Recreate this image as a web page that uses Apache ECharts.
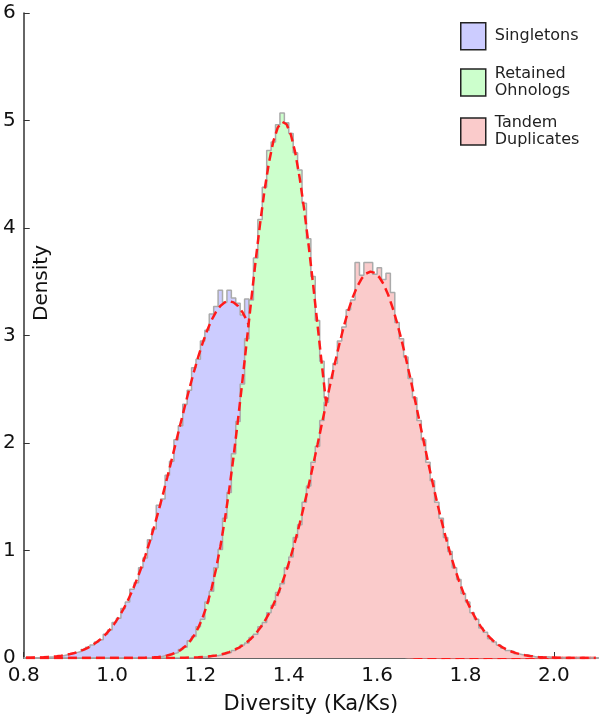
<!DOCTYPE html>
<html>
<head>
<meta charset="utf-8">
<script src="https://cdn.jsdelivr.net/npm/echarts@6/dist/echarts.min.js"></script>
<style>
html,body{margin:0;padding:0;background:#fff;}
#chart{width:600px;height:722px;}
</style>
</head>
<body>
<div id="chart"></div>
<script>
// Histogram bins: width 0.01, left edges from 0.80 to 2.09 (130 bins)
const binStart = 0.80;
const binWidth = 0.01;

const seriesNames = ['Singletons', 'Retained Ohnologs', 'Tandem Duplicates'];
const xTicks = [0.8, 1.0, 1.2, 1.4, 1.6, 1.8, 2.0];
const yTicks = [0, 1, 2, 3, 4, 5, 6];

// Histogram densities (one value per bin)
const singletonsHist = [
  0,0,0,0,0,0.01,0.01,0.02,0.02,0.03,
  0.04,0.05,0.06,0.08,0.10,0.12,0.15,0.17,0.22,0.26,
  0.33,0.37,0.46,0.52,0.64,0.70,0.84,0.93,1.10,1.20,
  1.42,1.48,1.70,1.83,2.03,2.16,2.36,2.49,2.70,2.78,
  2.95,3.05,3.20,3.27,3.42,3.31,3.42,3.35,3.30,3.19,
  3.34,3.25,2.95,2.80,2.66,2.51,2.34,2.18,2.01,1.85,
  1.68,1.52,1.36,1.22,1.08,0.95,0.83,0.72,0.62,0.53,
  0.45,0.38,0.31,0.26,0.21,0.17,0.13,0.10,0.08,0.06,
  0.05,0.03,0.02,0.02,0.01,0.01,0,0,0,0,
  0,0,0,0,0,0,0,0,0,0,
  0,0,0,0,0,0,0,0,0,0,
  0,0,0,0,0,0,0,0,0,0,
  0,0,0,0,0,0,0,0,0,0
];
const ohnologsHist = [
  0,0,0,0,0,0,0,0,0,0,
  0,0,0,0,0,0,0,0,0,0,
  0,0,0,0,0,0,0,0,0,0.01,
  0.01,0.02,0.03,0.04,0.05,0.08,0.10,0.16,0.20,0.29,
  0.36,0.52,0.62,0.84,1.01,1.30,1.54,1.90,2.20,2.55,
  2.97,3.33,3.72,4.08,4.38,4.72,4.80,4.96,5.07,4.98,
  4.88,4.70,4.54,4.23,3.90,3.55,3.14,2.76,2.42,2.02,
  1.70,1.39,1.12,0.90,0.71,0.55,0.42,0.32,0.23,0.17,
  0.12,0.08,0.06,0.04,0.03,0.02,0.01,0.01,0,0,
  0,0,0,0,0,0,0,0,0,0,
  0,0,0,0,0,0,0,0,0,0,
  0,0,0,0,0,0,0,0,0,0,
  0,0,0,0,0,0,0,0,0,0
];
const tandemHist = [
  0,0,0,0,0,0,0,0,0,0,
  0,0,0,0,0,0,0,0,0,0,
  0,0,0,0,0,0,0,0,0,0,
  0,0,0,0,0,0,0,0,0,0.01,
  0.01,0.01,0.02,0.02,0.03,0.04,0.05,0.07,0.09,0.12,
  0.14,0.19,0.22,0.29,0.33,0.42,0.49,0.61,0.69,0.84,
  0.94,1.12,1.24,1.45,1.60,1.82,1.97,2.21,2.38,2.60,
  2.74,2.95,3.08,3.24,3.33,3.68,3.56,3.68,3.68,3.57,
  3.63,3.52,3.58,3.40,3.12,2.97,2.80,2.60,2.42,2.21,
  2.03,1.82,1.65,1.45,1.30,1.12,0.99,0.84,0.73,0.60,
  0.52,0.42,0.36,0.28,0.24,0.18,0.15,0.12,0.09,0.07,
  0.06,0.04,0.03,0.03,0.02,0.01,0.01,0.01,0.01,0,
  0,0,0,0,0,0,0,0,0,0
];

// Fitted density curves (one value per bin centre)
const singletonsFit = [
  0.002,0.003,0.004,0.005,0.007,0.010,0.013,0.017,0.022,0.029,
  0.037,0.047,0.060,0.076,0.095,0.118,0.146,0.179,0.218,0.264,
  0.317,0.379,0.449,0.529,0.618,0.718,0.828,0.948,1.078,1.218,
  1.365,1.520,1.681,1.846,2.014,2.181,2.346,2.506,2.658,2.801,
  2.930,3.044,3.141,3.218,3.274,3.308,3.320,3.308,3.274,3.218,
  3.141,3.044,2.930,2.801,2.658,2.506,2.346,2.181,2.014,1.846,
  1.681,1.520,1.365,1.218,1.078,0.948,0.828,0.718,0.618,0.529,
  0.449,0.379,0.317,0.264,0.218,0.179,0.146,0.118,0.095,0.076,
  0.060,0.047,0.037,0.029,0.022,0.017,0.013,0.010,0.007,0.005,
  0.004,0.003,0.002,0.002,0.001,0.001,0.001,0.001,0,0,
  0,0,0,0,0,0,0,0,0,0,
  0,0,0,0,0,0,0,0,0,0,
  0,0,0,0,0,0,0,0,0,0
];
const ohnologsFit = [
  0,0,0,0,0,0,0,0,0,0,
  0,0,0,0,0,0,0,0,0,0,
  0,0,0,0,0,0,0.001,0.002,0.004,0.006,
  0.010,0.015,0.023,0.035,0.051,0.074,0.106,0.149,0.206,0.280,
  0.375,0.495,0.642,0.821,1.033,1.280,1.560,1.873,2.214,2.576,
  2.952,3.328,3.696,4.039,4.347,4.606,4.805,4.934,4.988,4.965,
  4.865,4.694,4.458,4.168,3.837,3.478,3.102,2.725,2.356,2.006,
  1.682,1.387,1.127,0.902,0.710,0.550,0.420,0.316,0.233,0.170,
  0.122,0.086,0.060,0.041,0.028,0.018,0.012,0.008,0.005,0.003,
  0.002,0.001,0.001,0,0,0,0,0,0,0,
  0,0,0,0,0,0,0,0,0,0,
  0,0,0,0,0,0,0,0,0,0,
  0,0,0,0,0,0,0,0,0,0
];
const tandemFit = [
  0,0,0,0,0,0,0,0,0,0,
  0,0,0,0,0,0,0,0,0,0,
  0,0,0,0,0,0,0,0,0,0,
  0,0,0,0.001,0.001,0.002,0.003,0.004,0.005,0.007,
  0.010,0.013,0.018,0.024,0.032,0.042,0.055,0.071,0.091,0.116,
  0.146,0.182,0.226,0.279,0.340,0.412,0.495,0.590,0.697,0.817,
  0.951,1.097,1.255,1.425,1.604,1.792,1.984,2.180,2.376,2.568,
  2.754,2.928,3.090,3.235,3.357,3.456,3.530,3.576,3.594,3.582,
  3.542,3.474,3.379,3.260,3.120,2.963,2.790,2.606,2.415,2.219,
  2.023,1.829,1.641,1.460,1.288,1.128,0.979,0.843,0.721,0.610,
  0.513,0.428,0.354,0.290,0.236,0.191,0.153,0.121,0.096,0.075,
  0.058,0.045,0.034,0.026,0.019,0.014,0.010,0.007,0.005,0.004,
  0.003,0.002,0.001,0.001,0,0,0,0,0,0
];

const fillColors = ['#ccccff', '#ccffcc', '#facbcb'];
const FONT = 'DejaVu Sans';

function edge(i) { return +(binStart + binWidth * i).toFixed(3); }
function histData(vals) {
  const d = vals.map((v, i) => [edge(i), v]);
  d.push([edge(vals.length), 0]);
  return d;
}
function fitData(vals) {
  return vals.map((v, i) => [+(binStart + binWidth * (i + 0.5)).toFixed(4), v]);
}

function histSeries(name, vals, color, z) {
  return {
    name: name, type: 'line', step: 'end', symbol: 'none', silent: true, z: z,
    data: histData(vals),
    itemStyle: { color: color },
    lineStyle: { color: '#aaaaaa', width: 1.5 },
    areaStyle: { color: color, opacity: 1 }
  };
}
function fitSeries(name, vals, z) {
  return {
    name: name, type: 'line', symbol: 'none', silent: true, z: z,
    data: fitData(vals),
    lineStyle: { color: '#ff1a1a', width: 2.5, type: [9, 5] }
  };
}

const chart = echarts.init(document.getElementById('chart'), null, { renderer: 'canvas' });
chart.setOption({
  animation: false,
  backgroundColor: '#ffffff',
  grid: { left: 20, right: 2, top: 13, bottom: 64, containLabel: false },
  legend: {
    left: 455, top: 17, orient: 'vertical',
    itemWidth: 25, itemHeight: 27, itemGap: 15,
    selectedMode: false,
    data: seriesNames.map((n, i) => ({
      name: n, icon: 'rect',
      itemStyle: { color: fillColors[i], borderColor: '#222', borderWidth: 1.5 }
    })),
    formatter: function (n) { return n.replace(' ', '\n'); },
    textStyle: { fontFamily: FONT, fontSize: 16, lineHeight: 17, color: '#222', padding: [0, 0, 0, 4] }
  },
  xAxis: {
    type: 'value', min: 0.8, max: 2.1, interval: 0.2,
    name: 'Diversity (Ka/Ks)', nameLocation: 'middle', nameGap: 36,
    nameTextStyle: { fontFamily: FONT, fontSize: 21, color: '#111' },
    axisLine: { show: true, onZero: false, lineStyle: { color: '#333', width: 1.5 } },
    axisTick: { show: true, inside: true, length: 6, lineStyle: { color: '#333', width: 1 }, customValues: xTicks },
    axisLabel: { fontFamily: FONT, fontSize: 20, color: '#111', margin: 8, customValues: xTicks,
      formatter: function (v) { return v.toFixed(1); } },
    splitLine: { show: false }
  },
  yAxis: {
    type: 'value', min: 0, max: 6, interval: 1,
    axisLine: { show: true, lineStyle: { color: '#333', width: 1.5 } },
    axisTick: { show: true, inside: true, length: 6, lineStyle: { color: '#333', width: 1 }, customValues: yTicks },
    axisLabel: { fontFamily: FONT, fontSize: 20, color: '#111', margin: 8, customValues: yTicks },
    splitLine: { show: false }
  },
  graphic: [{
    type: 'text', x: 42, y: 283, rotation: Math.PI / 2, silent: true,
    style: { text: 'Density', fontFamily: FONT, fontSize: 20, fill: '#111', align: 'center', verticalAlign: 'middle' }
  }],
  series: [
    histSeries(seriesNames[0], singletonsHist, fillColors[0], 1),
    fitSeries('Singletons fit', singletonsFit, 2),
    histSeries(seriesNames[1], ohnologsHist, fillColors[1], 3),
    fitSeries('Retained Ohnologs fit', ohnologsFit, 4),
    histSeries(seriesNames[2], tandemHist, fillColors[2], 5),
    fitSeries('Tandem Duplicates fit', tandemFit, 6)
  ]
});
</script>
</body>
</html>
